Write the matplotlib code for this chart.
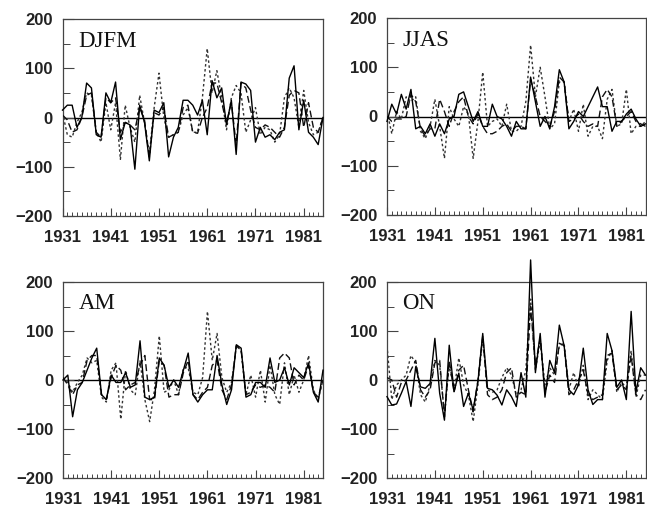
"""Four seasonal anomaly panels (DJFM, JJAS, AM, ON), 1931-1985.

Three series per panel: solid, long-dash and short-dash lines.
"""
import matplotlib
matplotlib.use("Agg")
import matplotlib.pyplot as plt
from matplotlib.ticker import MultipleLocator

YEARS = list(range(1931, 1986))

# ---- DJFM ----
djfm_solid = [15, 25, 25, -20, 0, 70, 60, -35, -40, 50,
              30, 72, -45, -10, -15, -105, 25, -10, -88, 15,
              10, 30, -80, -40, -20, 35, 35, 25, 5, 35,
              -35, 75, 40, 60, -15, 35, -75, 72, 68, 55,
              -50, -20, -40, -35, -45, -30, -25, 80, 105, -25,
              35, -30, -40, -55, 0]
djfm_dash = [5, -5, -30, -25, 0, 45, 50, -30, -40, 40,
             30, 40, -30, -10, -15, -25, 20, -5, -80, 10,
             5, 20, -40, -35, -30, 20, 25, -30, -32, 0,
             20, 70, 70, 30, -10, 30, -55, 70, 60, 15,
             -20, -25, -15, -20, -30, -40, -20, 45, 55, 50,
             -20, 30, -20, -30, 0]
djfm_dot = [10, -35, -40, -10, 10, 50, 45, -30, -50, 30,
            -25, 30, -85, 25, -20, -50, 45, -10, -75, 20,
            90, 0, -40, -35, -30, 5, 20, -30, -30, 40,
            140, 50, 95, 40, -25, 40, 65, 50, -30, -5,
            20, -35, -20, -25, -50, -35, 40, 60, 40, -20,
            55, -10, -35, -30, 0]

# ---- JJAS ----
jjas_solid = [-10, 25, 5, 45, 15, 55, -25, -20, -35, -15,
              -40, -15, -35, -5, 0, 45, 50, 20, -10, 10,
              -20, -20, 25, 0, -5, -20, -40, -10, -25, -25,
              80, 30, -20, 0, -25, 20, 95, 70, -25, -10,
              10, 0, 20, 40, 60, 20, 20, -30, -10, -10,
              5, 15, -5, -20, -15]
jjas_dash = [0, -10, -5, -5, 0, 45, 30, -25, -40, -25,
             -25, 35, 10, -20, 10, 30, 40, 0, -15, 5,
             -20, -35, -35, -30, -20, -15, -30, -20, -20, -25,
             75, 40, 0, -10, -20, 10, 80, 70, -10, -5,
             5, -10, -20, -15, -20, 40, 55, 40, -20, -10,
             0, 10, -10, -15, -20]
jjas_dot = [10, -35, 10, -5, 40, 30, 40, -30, -45, -20,
            35, -20, -85, 20, -5, -20, 20, 5, -85, -10,
            90, -20, -10, -5, -20, 25, -30, -30, -20, 30,
            145, 40, 100, 40, -25, -15, 70, 70, -10, 15,
            -30, 25, -40, -20, -20, -45, 35, 55, -20, -15,
            55, -35, -20, -20, -10]

# ---- AM ----
am_solid = [0, 10, -75, -20, -5, 20, 45, 65, -30, -40,
            10, -5, -5, 15, -15, -10, 80, -35, -40, -35,
            45, 30, -15, 0, -15, 20, 55, -30, -45, -30,
            -20, -20, 50, -10, -50, -20, 72, 65, -35, -30,
            -5, -5, -15, 45, -5, 0, 25, -10, 25, 15,
            5, 35, -25, -45, 20]
am_dash = [5, -10, -30, -10, -5, 40, 50, 50, -30, -40,
           5, 30, 20, -20, -10, -5, 30, 50, -40, -40,
           40, 30, -35, -30, -30, 15, 40, -30, -40, -25,
           -15, 30, 40, -20, -40, -10, 70, 60, -30, -25,
           -10, -15, -10, -15, -25, 45, 55, 45, -10, 10,
           0, 30, -25, -35, 0]
am_dot = [5, -5, -25, -5, 10, 45, 35, 40, -35, -45,
          20, 35, -80, 20, -20, -30, 40, -40, -85, -20,
          90, -25, -20, 0, -30, 25, 25, -25, -30, 5,
          140, 40, 95, 5, -25, -5, 70, 60, -30, 10,
          -35, 20, -45, 30, -30, -50, 35, -30, 10, -25,
          0, 50, -20, -40, 0]

# ---- ON ----
on_solid = [-34, -51, -49, -27, -3, -54, 27, -14, -17, -7,
            85, -27, -82, 71, -24, 14, -54, -27, -61, -3,
            95, -17, -20, -31, -51, -20, -34, -54, 15, -35,
            245, 15, 95, -35, 40, 15, 112, 70, -20, -30,
            -10, 65, -20, -50, -40, -40, 95, 60, -15, 0,
            -40, 140, -25, 25, 10]
on_dash = [5, 0, -35, -5, 0, 20, 40, -20, -35, -20,
           35, 40, -75, 40, -25, 20, 30, -20, -65, 0,
           90, -30, -40, -35, -20, 15, 25, -35, -25, -30,
           150, 30, 85, -25, 10, -5, 75, 70, -30, -20,
           0, 20, -30, -40, -35, -30, 50, 55, -20, -10,
           -20, 50, -30, -40, -20]
on_dot = [70, -40, -10, 0, 10, 50, 35, -30, -45, -10,
          40, 30, -70, 30, -20, 45, -10, -30, -85, -10,
          85, -20, -25, -20, 5, 25, 10, -30, -20, 20,
          165, 20, 80, -10, 25, 10, 70, 75, -20, 15,
          -15, 30, -40, -20, -30, -40, 40, 60, -25, -5,
          -15, 60, -35, 10, 10]

PANELS = [
    ("DJFM", djfm_solid, djfm_dash, djfm_dot),
    ("JJAS", jjas_solid, jjas_dash, jjas_dot),
    ("AM", am_solid, am_dash, am_dot),
    ("ON", on_solid, on_dash, on_dot),
]
XTICKS = [1931, 1941, 1951, 1961, 1971, 1981]
YTICKS = [-200, -100, 0, 100, 200]

W, H = 647, 509
# axes boxes in pixels: left, top, right, bottom
BOXES = [
    (62.5, 19, 323, 216),
    (387, 18, 645.5, 215),
    (63, 282, 323, 478),
    (387, 282, 645.5, 478),
]

FRAME = "#444444"


def ylab(v):
    return f"\u2212{abs(v)}" if v < 0 else f"{v}"


fig = plt.figure(figsize=(W / 100, H / 100), dpi=100)

for (name, solid, dash, dot), (l, t, r, b) in zip(PANELS, BOXES):
    ax = fig.add_axes([l / W, 1 - b / H, (r - l) / W, (b - t) / H])
    ax.axhline(0, color="black", lw=1.0, zorder=1)
    ax.plot(YEARS, dot, color="#333333", lw=1.0, ls=(0, (1.8, 1.8)), zorder=2)
    ax.plot(YEARS, dash, color="#111111", lw=1.0, ls=(0, (5, 2.5)), zorder=3)
    ax.plot(YEARS, solid, color="black", lw=1.0, zorder=4, clip_on=False)

    ax.set_xlim(1931, 1985)
    ax.set_ylim(-200, 200)
    ax.set_xticks(XTICKS)
    ax.set_xticklabels([str(x) for x in XTICKS])
    ax.xaxis.set_minor_locator(MultipleLocator(1))
    ax.set_yticks(YTICKS)
    ax.set_yticklabels([ylab(v) for v in YTICKS])
    ax.yaxis.set_minor_locator(MultipleLocator(50))

    ax.tick_params(axis="x", which="major", direction="in", length=6,
                   width=0.8, color=FRAME, pad=10)
    ax.tick_params(axis="x", which="minor", direction="in", length=3,
                   width=0.7, color=FRAME)
    ax.tick_params(axis="y", which="major", direction="in", length=8,
                   width=0.8, color=FRAME, pad=7)
    ax.tick_params(axis="y", which="minor", direction="in", length=5,
                   width=0.7, color=FRAME)
    for lab in ax.get_xticklabels() + ax.get_yticklabels():
        lab.set_fontfamily("Liberation Sans")
        lab.set_fontweight("bold")
        lab.set_fontsize(12)
        lab.set_color("#222222")

    for sp in ax.spines.values():
        sp.set_color(FRAME)
        sp.set_linewidth(0.9)

    ax.text(0.06, 0.86, name, transform=ax.transAxes, family="Liberation Serif",
            fontsize=16.5, color="#111111", ha="left", va="baseline")

fig.savefig("out.png", dpi=100)
